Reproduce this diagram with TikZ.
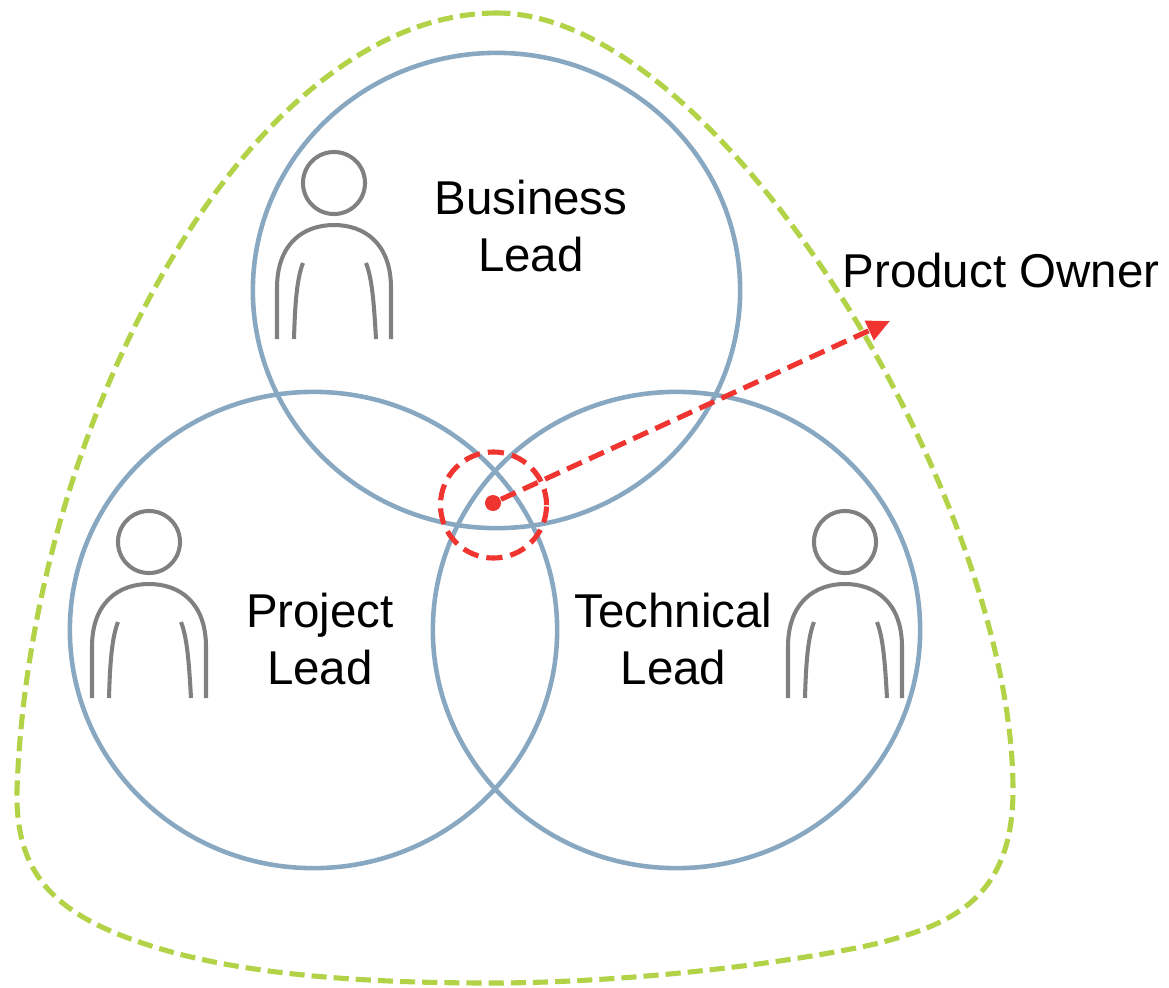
\documentclass[tikz,border=0pt]{standalone}
\usepackage{fontspec}
\setmainfont{Liberation Sans}
\usetikzlibrary{arrows.meta}

\definecolor{roleblue}{RGB}{136,168,194}
\definecolor{ownergreen}{RGB}{178,210,72}
\definecolor{focusred}{RGB}{240,52,48}
\definecolor{persongray}{RGB}{128,128,128}

\tikzset{
  role/.style={draw=roleblue,line width=1.3pt},
  owner/.style={draw=ownergreen,line width=1.45pt,dash pattern=on 4.3pt off 2pt},
  focus/.style={draw=focusred,line width=1.45pt,dash pattern=on 4.6pt off 2.3pt},
  icon/.style={draw=persongray,line width=1.15pt},
  label/.style={align=center,inner sep=0pt,font=\fontsize{13.5pt}{16.2pt}\selectfont},
  person/.pic={
    \draw[icon] (0,0) circle[radius=0.31cm];
    \draw[icon] (-57,156) -- (-57,105) .. controls (-57,60) and (-30,42) .. (0,42)
      .. controls (30,42) and (57,60) .. (57,105) -- (57,156);
    \draw[icon] (-31,80) .. controls (-37,95) and (-39,120) .. (-40,156);
    \draw[icon] (32,80) .. controls (38,95) and (40,120) .. (42,156);
  }
}

\begin{document}
\begin{tikzpicture}[x=0.01cm,y=-0.01cm]
  \useasboundingbox (0,0) rectangle (1169,987);

  % Product owner
  \draw[owner] (497,13) .. controls (250,13) and (30,420) .. (17,790)
    .. controls (15,880) and (60,920) .. (168,951)
    .. controls (260,977) and (380,983) .. (491,983)
    .. controls (620,983) and (780,965) .. (875,944)
    .. controls (950,925) and (1013,900) .. (1013,790)
    .. controls (1013,500) and (720,13) .. (497,13) -- cycle;

  % Roles
  \draw[role] (496.5,290.5) ellipse[x radius=2.435cm,y radius=2.375cm];
  \draw[role] (313.5,630) ellipse[x radius=2.435cm,y radius=2.38cm];
  \draw[role] (676.5,630) ellipse[x radius=2.435cm,y radius=2.38cm];

  \pic at (334,183) {person};
  \pic at (149,542) {person};
  \pic at (845,542) {person};

  \node[label] (business) at (531,226.5) {Business\\Lead};
  \node[label] (project) at (320,639.5) {Project\\Lead};
  \node[label] (technical) at (673.5,639.5) {Technical\\Lead};

  % Overlap
  \node[focus,circle,minimum size=1.06cm,inner sep=0pt] (overlap) at (493.5,505) {};
  \node[circle,fill=focusred,minimum size=0.16cm,inner sep=0pt] (core) at (493,503) {};
  \coordinate (tip) at (890,321);
  \draw[focus,-{Triangle[length=6.5pt,width=5.8pt]}] (core) -- (tip);

  \node[label,anchor=base] (owner) at (1001,287) {Product Owner};
\end{tikzpicture}
\end{document}
